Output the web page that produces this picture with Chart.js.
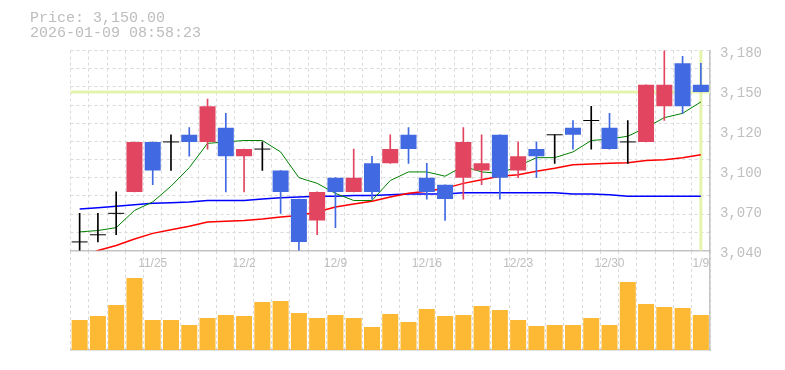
<!DOCTYPE html>
<html>
<head>
<meta charset="utf-8">
<script src="https://cdn.jsdelivr.net/npm/chart.js@4.4.1/dist/chart.umd.min.js"></script>
<style>
  html, body { margin: 0; padding: 0; background: #fff; }
  #wrap { position: relative; width: 785px; height: 370px; overflow: hidden; }
  #info { position: absolute; left: 30px; top: 11px; font: 15px/15px 'Liberation Mono', monospace; color: #bdbdbd; white-space: pre; }
  #volCanvas { position: absolute; left: 0; top: 250px; }
  #priceCanvas { position: absolute; left: 0; top: 0; }
</style>
</head>
<body>
<div id="wrap">
  <canvas id="volCanvas" width="785" height="120"></canvas>
  <canvas id="priceCanvas" width="785" height="275"></canvas>
  <div id="info">Price: 3,150.00
2026-01-09 08:58:23</div>
</div>
<script>
// daily candles (trading days)
const dates = ['11/18','11/19','11/20','11/21','11/25','11/26','11/27','11/28',
  '12/1','12/2','12/3','12/4','12/5','12/8','12/9','12/10','12/11','12/12',
  '12/15','12/16','12/17','12/18','12/19','12/22','12/23','12/24','12/25','12/26',
  '12/29','12/30','1/5','1/6','1/7','1/8','1/9'];
const opens  = [3045,3050,3065,3080,3115,3115,3120,3115,3125,3105,3110,3095,3075,3060,3090,3080,3100,3100,
  3120,3090,3085,3090,3095,3120,3095,3110,3120,3125,3130,3125,3115,3115,3140,3170,3155];
const highs  = [3065,3065,3080,3115,3115,3120,3125,3145,3135,3110,3115,3095,3075,3080,3090,3110,3105,3120,
  3125,3100,3085,3125,3120,3120,3115,3115,3120,3130,3140,3135,3130,3155,3180,3175,3170];
const lows   = [3035,3045,3050,3080,3085,3095,3105,3110,3080,3080,3095,3065,3035,3050,3055,3080,3075,3100,
  3100,3075,3060,3075,3085,3075,3090,3090,3100,3110,3110,3110,3100,3115,3130,3135,3150];
const closes = [3045,3050,3065,3115,3095,3115,3115,3140,3105,3110,3110,3080,3045,3080,3080,3090,3080,3110,
  3110,3080,3075,3115,3100,3090,3105,3105,3120,3120,3130,3110,3115,3155,3155,3140,3150];

// moving averages
const ma5  = [3052,3053,3055,3067,3073,3084,3097,3114,3115,3116,3116,3108,3090,3086,3079,3074,3074,3088,
  3094,3094,3091,3098,3094,3093,3098,3104,3104,3108,3116,3117,3119,3125,3132,3135,3143];
const ma25 = [3033,3039,3042.5,3047,3051,3053.5,3056,3059,3059.5,3060,3061,3062.5,3063.5,3066,3069.5,3071.5,3073.5,3076.5,
  3079,3080.5,3082.5,3086,3088.5,3091,3092,3094.5,3096.5,3099,3099.5,3100,3100.5,3102,3102.5,3104,3106];
const ma75 = [3068,3069,3070,3071,3072,3072.5,3073,3074,3074,3074,3075,3076,3076.5,3077,3077,3077.5,3077.5,3078,
  3078.5,3078.5,3078.5,3079.5,3079.5,3079.5,3079.5,3079.5,3079.5,3078.5,3078.5,3078,3077,3077,3077,3077,3077];

const volumes = [30,34,45,72,30,30,25,32,35,34,48,49,37,32,35,32,23,36,28,41,34,35,44,40,30,24,25,25,32,25,68,46,43,42,35];

const currentPrice = 3150;
const priceMin = 3039;
const priceMax = 3179;
const yTickLabels = ['3,040','3,070','3,100','3,120','3,150','3,180'];
const gridSteps = 11;
const volMax = 99;

const upColor = '#e2455f';
const downColor = '#4169e1';
const dojiColor = '#000000';
const gridColor = '#dadada';
const axisColor = '#c4c4c4';
const textColor = '#bebebe';

function candleColor(i) {
  if (closes[i] > opens[i]) return upColor;
  if (closes[i] < opens[i]) return downColor;
  return dojiColor;
}

const bodies = opens.map((o, i) => o === closes[i] ? null : [o, closes[i]]);
const wicks = opens.map((o, i) => [lows[i], highs[i]]);
const dojis = opens.map((o, i) => o === closes[i] ? o : null);
const colors = opens.map((o, i) => candleColor(i));

// current price line + last day marker, under the candles
const priceLinePlugin = {
  id: 'priceLine',
  beforeDatasetsDraw(chart) {
    const { ctx, chartArea, scales } = chart;
    const y = scales.y.getPixelForValue(currentPrice);
    const x = scales.x.getPixelForValue(dates.length - 1);
    ctx.save();
    ctx.strokeStyle = '#e4f4ae';
    ctx.lineWidth = 3;
    ctx.beginPath();
    ctx.moveTo(chartArea.left, y);
    ctx.lineTo(chartArea.right, y);
    ctx.moveTo(x, chartArea.top);
    ctx.lineTo(x, chartArea.bottom);
    ctx.stroke();
    ctx.restore();
  }
};

const priceChart = new Chart(document.getElementById('priceCanvas'), {
  type: 'bar',
  data: {
    labels: dates,
    datasets: [
      { type: 'bar', data: bodies, backgroundColor: colors, grouped: false,
        barPercentage: 0.876, categoryPercentage: 1, clip: 0, order: 0 },
      { type: 'line', data: dojis, showLine: false, pointStyle: 'line', pointRadius: 8,
        pointBorderWidth: 1, pointBorderColor: dojiColor, clip: 0, order: 1 },
      { type: 'bar', data: wicks, backgroundColor: colors, grouped: false,
        barThickness: 1, clip: 0, order: 2 },
      { type: 'line', data: ma5, borderColor: '#008000', borderWidth: 1, pointRadius: 0, tension: 0, clip: 0, order: 3 },
      { type: 'line', data: ma25, borderColor: '#ff0000', borderWidth: 1.5, pointRadius: 0, tension: 0, clip: 0, order: 4 },
      { type: 'line', data: ma75, borderColor: '#0000ff', borderWidth: 1.5, pointRadius: 0, tension: 0, clip: 0, order: 5 }
    ]
  },
  options: {
    responsive: false,
    animation: false,
    layout: { padding: { left: 70.5, top: 50.5, right: 0, bottom: 0 } },
    plugins: { legend: { display: false }, tooltip: { enabled: false } },
    scales: {
      x: {
        type: 'category',
        offset: true,
        grid: { offset: true, color: gridColor, lineWidth: 1, drawTicks: false },
        border: { color: axisColor, width: 1.5, dash: [3, 3] },
        ticks: {
          autoSkip: false, maxRotation: 0, padding: 6, color: textColor,
          font: { family: 'Liberation Sans', size: 12 },
          callback: (v, i) => (dates.length - 1 - i) % 5 === 0 ? dates[i] : ''
        },
        afterFit: s => { s.height = 24.5; }
      },
      y: {
        type: 'linear', position: 'right', min: priceMin, max: priceMax,
        grid: { color: gridColor, lineWidth: 1, drawTicks: false },
        border: { color: axisColor, width: 1.5, dash: [3, 3] },
        ticks: { display: false },
        afterBuildTicks: s => {
          const t = [];
          for (let k = 0; k <= gridSteps; k++) t.push({ value: priceMin + k * (priceMax - priceMin) / gridSteps });
          s.ticks = t;
        },
        afterFit: s => { s.width = 0; }
      },
      yl: {
        type: 'linear', position: 'right', min: priceMin, max: priceMax, weight: 1,
        grid: { display: false, drawTicks: false },
        border: { display: false },
        ticks: {
          color: textColor, padding: 10, labelOffset: 3,
          font: { family: 'Liberation Mono', size: 14 },
          callback: (v, i) => yTickLabels[i]
        },
        afterBuildTicks: s => {
          s.ticks = yTickLabels.map((_, i) => ({ value: priceMin + i * (priceMax - priceMin) / (yTickLabels.length - 1) }));
        },
        afterFit: s => { s.width = 75; }
      }
    }
  },
  plugins: [priceLinePlugin]
});

const volChart = new Chart(document.getElementById('volCanvas'), {
  type: 'bar',
  data: {
    labels: dates,
    datasets: [{ data: volumes, backgroundColor: '#fdb934', barPercentage: 0.876, categoryPercentage: 1 }]
  },
  options: {
    responsive: false,
    animation: false,
    layout: { padding: { left: 70.5, top: 1, right: 0, bottom: 0 } },
    plugins: { legend: { display: false }, tooltip: { enabled: false } },
    scales: {
      x: {
        offset: true,
        grid: { offset: true, color: gridColor, lineWidth: 1, drawTicks: false },
        border: { color: axisColor, width: 1.5, dash: [3, 3] },
        ticks: { display: false },
        afterFit: s => { s.height = 20; }
      },
      y: {
        position: 'right', min: 0, max: volMax,
        grid: { display: false, drawTicks: false },
        border: { color: axisColor, width: 1.5 },
        ticks: { display: false },
        afterFit: s => { s.width = 75; }
      }
    }
  }
});
</script>
</body>
</html>
